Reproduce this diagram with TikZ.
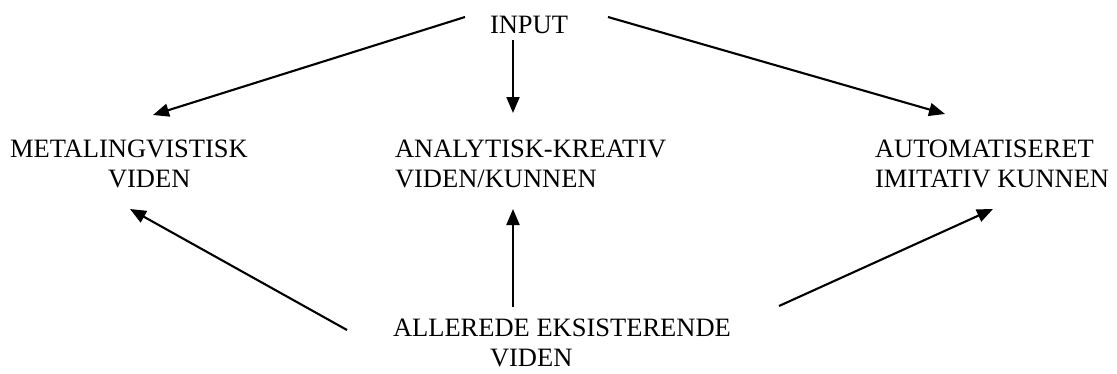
\documentclass[tikz,border=0pt]{standalone}
\usepackage{fontspec}
\setmainfont{Liberation Serif}
\usetikzlibrary{arrows.meta}
\tikzset{
  lbl/.style={anchor=base west, inner sep=0pt, outer sep=0pt, font=\fontsize{26.5}{30}\selectfont},
  arr/.style={line width=2.1pt, -{Triangle[length=16pt,width=13pt]}}
}
\begin{document}
\begin{tikzpicture}[x=1pt,y=-1pt]
\useasboundingbox (0,0) rectangle (1117,373);
% text
\node[lbl] (input) at (490,33) {INPUT};
\node[lbl] (meta1) at (10,157) {METALINGVISTISK};
\node[lbl] (meta2) at (108,187) {VIDEN};
\node[lbl] (ana1) at (395,157) {ANALYTISK-KREATIV};
\node[lbl] (ana2) at (395,187) {VIDEN/KUNNEN};
\node[lbl] (auto1) at (875,157) {AUTOMATISERET};
\node[lbl] (auto2) at (875,187) {IMITATIV KUNNEN};
\node[lbl] (all1) at (393,336) {ALLEREDE EKSISTERENDE};
\node[lbl] (all2) at (490,366) {VIDEN};
% connector ends
\coordinate (inL) at (465,17);
\coordinate (inD) at (513,40);
\coordinate (inR) at (608,17);
\coordinate (metaT) at (153,115);
\coordinate (anaT) at (513,113);
\coordinate (autoT) at (945,114);
\coordinate (metaB) at (130,209);
\coordinate (anaB) at (513,209);
\coordinate (autoB) at (993,209);
\coordinate (allL) at (347,330);
\coordinate (allM) at (513,307);
\coordinate (allR) at (779,306);
% connectors
\draw[arr] (inL) -- (metaT);
\draw[arr] (inD) -- (anaT);
\draw[arr] (inR) -- (autoT);
\draw[arr] (allL) -- (metaB);
\draw[arr] (allM) -- (anaB);
\draw[arr] (allR) -- (autoB);
\end{tikzpicture}
\end{document}
